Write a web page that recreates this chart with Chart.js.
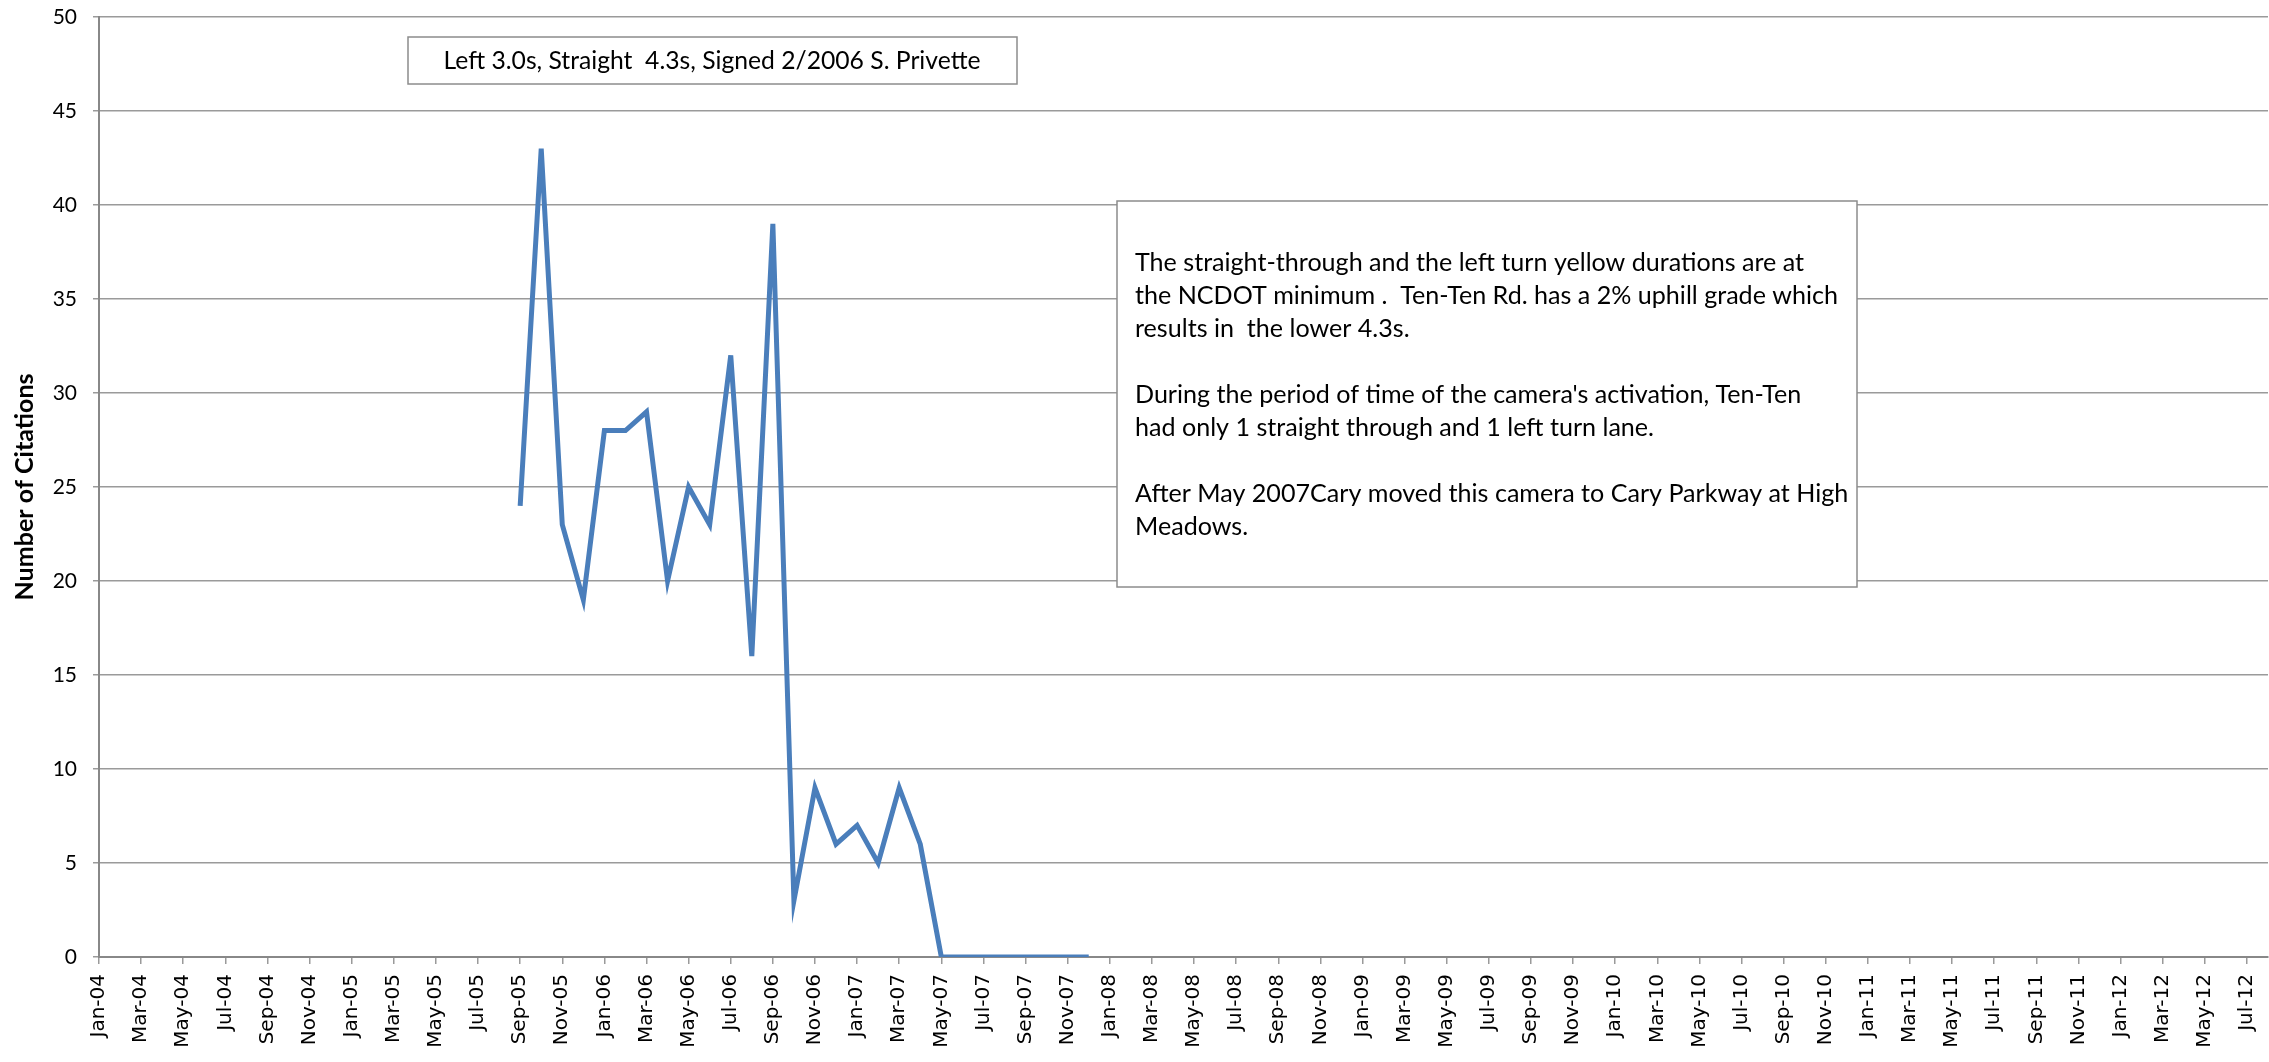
<!DOCTYPE html>
<html>
<head>
<meta charset="utf-8">
<script src="https://cdn.jsdelivr.net/npm/chart.js@4/dist/chart.umd.min.js"></script>
<style>
  html, body { margin: 0; padding: 0; background: #fff; }
  #wrap { width: 2269px; height: 1062px; position: relative; }
</style>
</head>
<body>
<div id="wrap"><canvas id="chart"></canvas></div>
<script>
// Months shown on the category axis (Jan-04 .. Aug-12)
const monthNames = ['Jan', 'Feb', 'Mar', 'Apr', 'May', 'Jun', 'Jul', 'Aug', 'Sep', 'Oct', 'Nov', 'Dec'];
const years = ['04', '05', '06', '07', '08', '09', '10', '11', '12'];
const lastMonth = 'Aug-12';

// Monthly citations, Sep-05 .. Dec-07
const firstDataMonth = 'Sep-05';
const citations = [24, 43, 23, 19, 28, 28, 29, 20, 25, 23, 32, 16, 39,
  3, 9, 6, 7, 5, 9, 6, 0, 0, 0, 0, 0, 0, 0, 0];

const yTicks = { min: 0, max: 50, step: 5 };
const yTitle = 'Number of Citations';

const noteTop = 'Left 3.0s, Straight  4.3s, Signed 2/2006 S. Privette';
const noteLines = [
  'The straight-through and the left turn yellow durations are at',
  'the NCDOT minimum .  Ten-Ten Rd. has a 2% uphill grade which',
  'results in  the lower 4.3s.',
  '',
  "During the period of time of the camera's activation, Ten-Ten",
  'had only 1 straight through and 1 left turn lane.',
  '',
  'After May 2007Cary moved this camera to Cary Parkway at High',
  'Meadows.'
];

// build the label list and pad the series with gaps
const labels = [];
years.forEach(y => monthNames.forEach(m => labels.push(`${m}-${y}`)));
labels.length = labels.indexOf(lastMonth) + 1;

const startIdx = labels.indexOf(firstDataMonth);
const series = labels.map((_, i) => {
  const j = i - startIdx;
  return j >= 0 && j < citations.length ? citations[j] : null;
});

// pick a font size so a text gets a given width (Calibri look-alike)
const measureCtx = document.createElement('canvas').getContext('2d');
function fitSize(text, width, weight = 'normal', family = 'Lato') {
  measureCtx.font = `${weight} 100px ${family}`;
  return Math.round(100 * width / measureCtx.measureText(text).width * 10) / 10;
}
const topNoteSize = fitSize(noteTop, 537);
const sideNoteSize = fitSize(noteLines[0], 669);
const titleSize = fitSize(yTitle, 227, 'bold');

// text boxes drawn on top of the chart
const notesPlugin = {
  id: 'notes',
  afterDraw(chart) {
    const ctx = chart.ctx;
    ctx.save();
    ctx.fillStyle = '#fff';
    ctx.strokeStyle = '#8c8c8c';
    ctx.lineWidth = 1.5;

    // top box
    ctx.fillRect(408, 37, 609, 47);
    ctx.strokeRect(408, 37, 609, 47);
    ctx.fillStyle = '#000';
    ctx.font = `${topNoteSize}px Lato`;
    ctx.textAlign = 'center';
    ctx.textBaseline = 'middle';
    ctx.fillText(noteTop, 712, 61);

    // right box
    ctx.fillStyle = '#fff';
    ctx.fillRect(1117, 201, 740, 386);
    ctx.strokeRect(1117, 201, 740, 386);
    ctx.fillStyle = '#000';
    ctx.font = `${sideNoteSize}px Lato`;
    ctx.textAlign = 'left';
    noteLines.forEach((line, i) => {
      ctx.fillText(line, 1135, 263 + i * 33);
    });
    ctx.restore();
  }
};

new Chart(document.getElementById('chart'), {
  type: 'line',
  data: {
    labels,
    datasets: [{
      data: series,
      borderColor: '#4a7ebb',
      borderWidth: 5,
      pointRadius: 0,
      tension: 0,
      spanGaps: false,
      fill: false
    }]
  },
  options: {
    responsive: true,
    maintainAspectRatio: false,
    animation: false,
    devicePixelRatio: 1,
    layout: { padding: { top: 17, right: 1, bottom: 0, left: 0 } },
    plugins: {
      legend: { display: false },
      tooltip: { enabled: false }
    },
    scales: {
      x: {
        type: 'category',
        offset: false,
        grid: { display: true, drawOnChartArea: false, drawTicks: true, tickLength: 7, color: '#9a9a9a', lineWidth: 1.5 },
        border: { display: true, color: '#888', width: 2 },
        ticks: {
          autoSkip: false,
          maxRotation: 90,
          minRotation: 90,
          padding: 10,
          color: '#000',
          font: { family: 'DejaVu Sans', size: 20 },
          callback: (v, i) => (i % 2 ? null : labels[i])
        },
        afterFit: (scale) => {
          scale.height = 105;
          scale.paddingLeft = 0;
          scale.paddingRight = 0;
        }
      },
      y: {
        min: yTicks.min,
        max: yTicks.max,
        grid: { color: '#9a9a9a', lineWidth: 1.5, drawTicks: true, tickLength: 6 },
        border: { display: true, color: '#888', width: 2 },
        ticks: {
          stepSize: yTicks.step,
          padding: 16,
          color: '#000',
          font: { family: 'Lato', size: 21 }
        },
        title: {
          display: true,
          text: yTitle,
          color: '#000',
          font: { family: 'Lato', size: titleSize, weight: 'bold', lineHeight: 1.2 },
          padding: { top: 10, bottom: 0 }
        },
        afterFit: (scale) => {
          scale.width = 99;
          scale.paddingTop = 0;
          scale.paddingBottom = 0;
        }
      }
    }
  },
  plugins: [notesPlugin]
});
</script>
</body>
</html>
